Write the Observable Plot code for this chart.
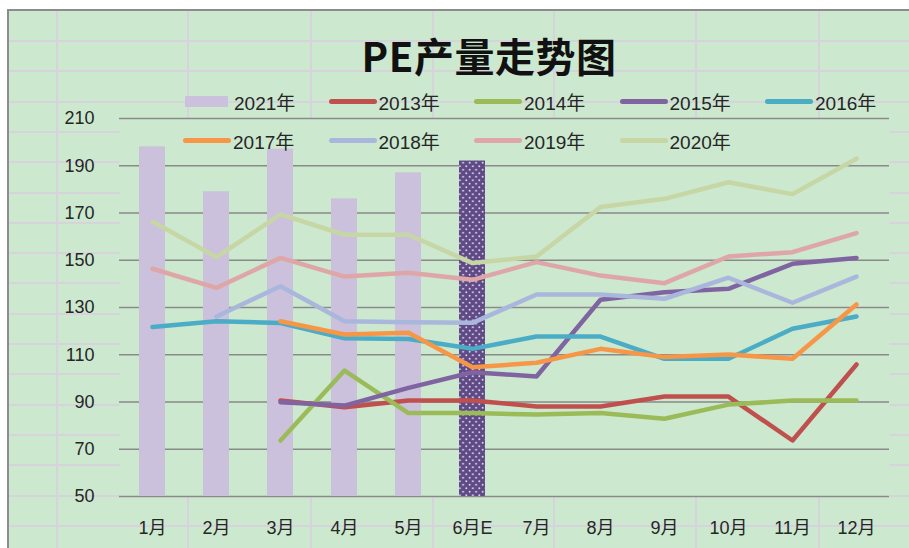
<!DOCTYPE html>
<html>
<head>
<meta charset="utf-8">
<script src="https://cdn.jsdelivr.net/npm/d3@7"></script>
<script src="https://cdn.jsdelivr.net/npm/@observablehq/plot@0.6"></script>
<style>
  html, body { margin: 0; padding: 0; background: #ffffff; }
  #wrap { position: relative; width: 909px; height: 548px; overflow: hidden;
    font-family: "Liberation Sans", "Noto Sans CJK SC", sans-serif; color: #262626; }
  #sheet { position: absolute; left: 7px; top: 9px; right: 0; bottom: 0;
    border-left: 2px solid #8c8c8c; border-top: 2px solid #8c8c8c; background: #cce8cf; }
  .gl { position: absolute; background: #d7d3dc; }
  #chart { position: absolute; left: 0; top: 0; }
  #title { position: absolute; top: 30px; left: 489px; transform: translateX(-50%);
    font-family: "Noto Sans CJK SC", sans-serif; font-weight: 700; font-size: 40px;
    letter-spacing: 0.5px; white-space: nowrap; color: #111; line-height: 50px; }
  .leg { position: absolute; display: flex; align-items: center; height: 22px;
    font-size: 19px; white-space: nowrap; color: #262626; }
  .sw-bar { width: 43px; height: 11px; margin-right: 6px; }
  .sw-line { width: 48px; height: 5px; border-radius: 3px; margin-right: 2px; }
</style>
</head>
<body>
<svg width="0" height="0" style="position:absolute">
  <defs>
    <pattern id="dots" width="6.5" height="7" patternUnits="userSpaceOnUse">
      <rect width="6.5" height="7" fill="#5f4a86"></rect>
      <circle cx="1.6" cy="1.75" r="0.95" fill="#dcd6ea"></circle>
      <circle cx="4.85" cy="5.25" r="0.95" fill="#dcd6ea"></circle>
    </pattern>
  </defs>
</svg>
<div id="wrap">
  <div id="sheet"></div>
  <div id="chart"></div>
  <div id="title">PE产量走势图</div>
  <div id="legend"></div>
</div>
<script>
// ---- data ----
const months = ["1月","2月","3月","4月","5月","6月E","7月","8月","9月","10月","11月","12月"];
const yTicks = [50, 70, 90, 110, 130, 150, 170, 190, 210];

const barName = "2021年";
const bar2021 = [198, 179, 197, 176, 187, 192];   // last one (6月E) is an estimate

const seriesNames = ["2013年","2014年","2015年","2016年","2017年","2018年","2019年","2020年"];
const s2013 = [null, null, 90.6, 87.8, 90.6, 90.6, 88.1, 88.1, 92.3, 92.3, 73.7, 105.9];
const s2014 = [null, null, 73.7, 103.3, 85.3, 85.3, 84.7, 85.3, 82.9, 88.9, 90.6, 90.6];
const s2015 = [null, null, 89.9, 88.5, 96.0, 102.6, 100.8, 133.3, 136.5, 137.9, 148.5, 151.0];
const s2016 = [121.7, 124.2, 123.4, 117.0, 116.7, 112.5, 117.7, 117.7, 108.3, 108.3, 121.0, 126.2];
const s2017 = [null, null, 124.2, 118.6, 119.3, 104.7, 106.6, 112.5, 109.0, 110.1, 108.3, 131.3];
const s2018 = [null, 126.2, 139.0, 124.2, 123.8, 123.5, 135.5, 135.5, 133.7, 142.6, 132.0, 143.1];
const s2019 = [146.4, 138.3, 151.0, 143.1, 144.7, 141.7, 149.2, 143.5, 140.3, 151.6, 153.4, 161.5];
const s2020 = [166.4, 151.3, 169.4, 160.8, 160.8, 148.8, 151.6, 172.5, 176.0, 183.0, 178.0, 193.0];
const seriesValues = [s2013, s2014, s2015, s2016, s2017, s2018, s2019, s2020];

// ---- styles ----
const seriesColors = ["#c0504d","#9bbb59","#8064a2","#4bacc6","#f79646","#a9b7dc","#dea6a7","#c7d6a5"];
const barColor = "#ccc1dc";

// ---- sheet grid (decorative background) ----
const sheet = document.getElementById("sheet");
for (let y = 29; y < 548; y += 30.3) {
  const d = document.createElement("div"); d.className = "gl";
  d.style.cssText = `left:0;right:0;top:${y}px;height:2px;`; sheet.appendChild(d);
}
for (const x of [47, 178, 301, 423, 544, 686, 809]) {
  const d = document.createElement("div"); d.className = "gl";
  d.style.cssText = `top:0;bottom:0;left:${x}px;width:2px;`; sheet.appendChild(d);
}

// ---- tables ----
const bars = bar2021.map((v, i) => ({month: months[i], value: v, est: months[i].endsWith("E")}));
const lines = [];
seriesNames.forEach((name, si) => {
  seriesValues[si].forEach((v, i) => lines.push({series: name, month: months[i], value: v}));
});

const chart = Plot.plot({
  width: 909,
  height: 548,
  marginLeft: 119,
  marginRight: 20,
  marginTop: 118,
  marginBottom: 52,
  style: {background: "transparent", fontSize: "18px", color: "#262626",
          fontFamily: "'Liberation Sans','Noto Sans CJK SC',sans-serif", overflow: "visible"},
  x: {type: "band", domain: months, paddingInner: 0.59, paddingOuter: 0.31,
      tickSize: 0, tickPadding: 25, label: null},
  y: {domain: [50, 210], ticks: yTicks, tickSize: 0, tickPadding: 25, label: null},
  color: {domain: seriesNames, range: seriesColors},
  marks: [
    Plot.frame({fill: "#cce8cf", stroke: "none"}),
    Plot.ruleY(yTicks, {stroke: "#8a8a8a", strokeWidth: 1.6}),
    Plot.barY(bars.filter(d => !d.est), {x: "month", y1: 50, y2: "value", fill: barColor}),
    Plot.barY(bars.filter(d => d.est), {x: "month", y1: 50, y2: "value", fill: "url(#dots)"}),
    Plot.line(lines, {x: "month", y: "value", z: "series", stroke: "series",
      strokeWidth: 4.5, strokeLinejoin: "round", strokeLinecap: "round",
      defined: d => d.value != null})
  ]
});
document.getElementById("chart").appendChild(chart);

// ---- legend (HTML overlay) ----
const legend = document.getElementById("legend");
const legendItems = [{name: barName, color: barColor, bar: true}]
  .concat(seriesNames.map((n, i) => ({name: n, color: seriesColors[i], bar: false})));
legendItems.forEach((it, i) => {
  const row = Math.floor(i / 5), col = i % 5;
  const el = document.createElement("div"); el.className = "leg";
  el.style.left = (183 + col * 145.5) + "px";
  el.style.top = (row === 0 ? 90 : 129) + "px";
  const sw = document.createElement("span");
  sw.className = it.bar ? "sw-bar" : "sw-line";
  sw.style.background = it.color;
  if (it.bar) sw.style.marginLeft = "2px";
  const tx = document.createElement("span"); tx.textContent = it.name;
  el.appendChild(sw); el.appendChild(tx); legend.appendChild(el);
});
</script>
</body>
</html>
